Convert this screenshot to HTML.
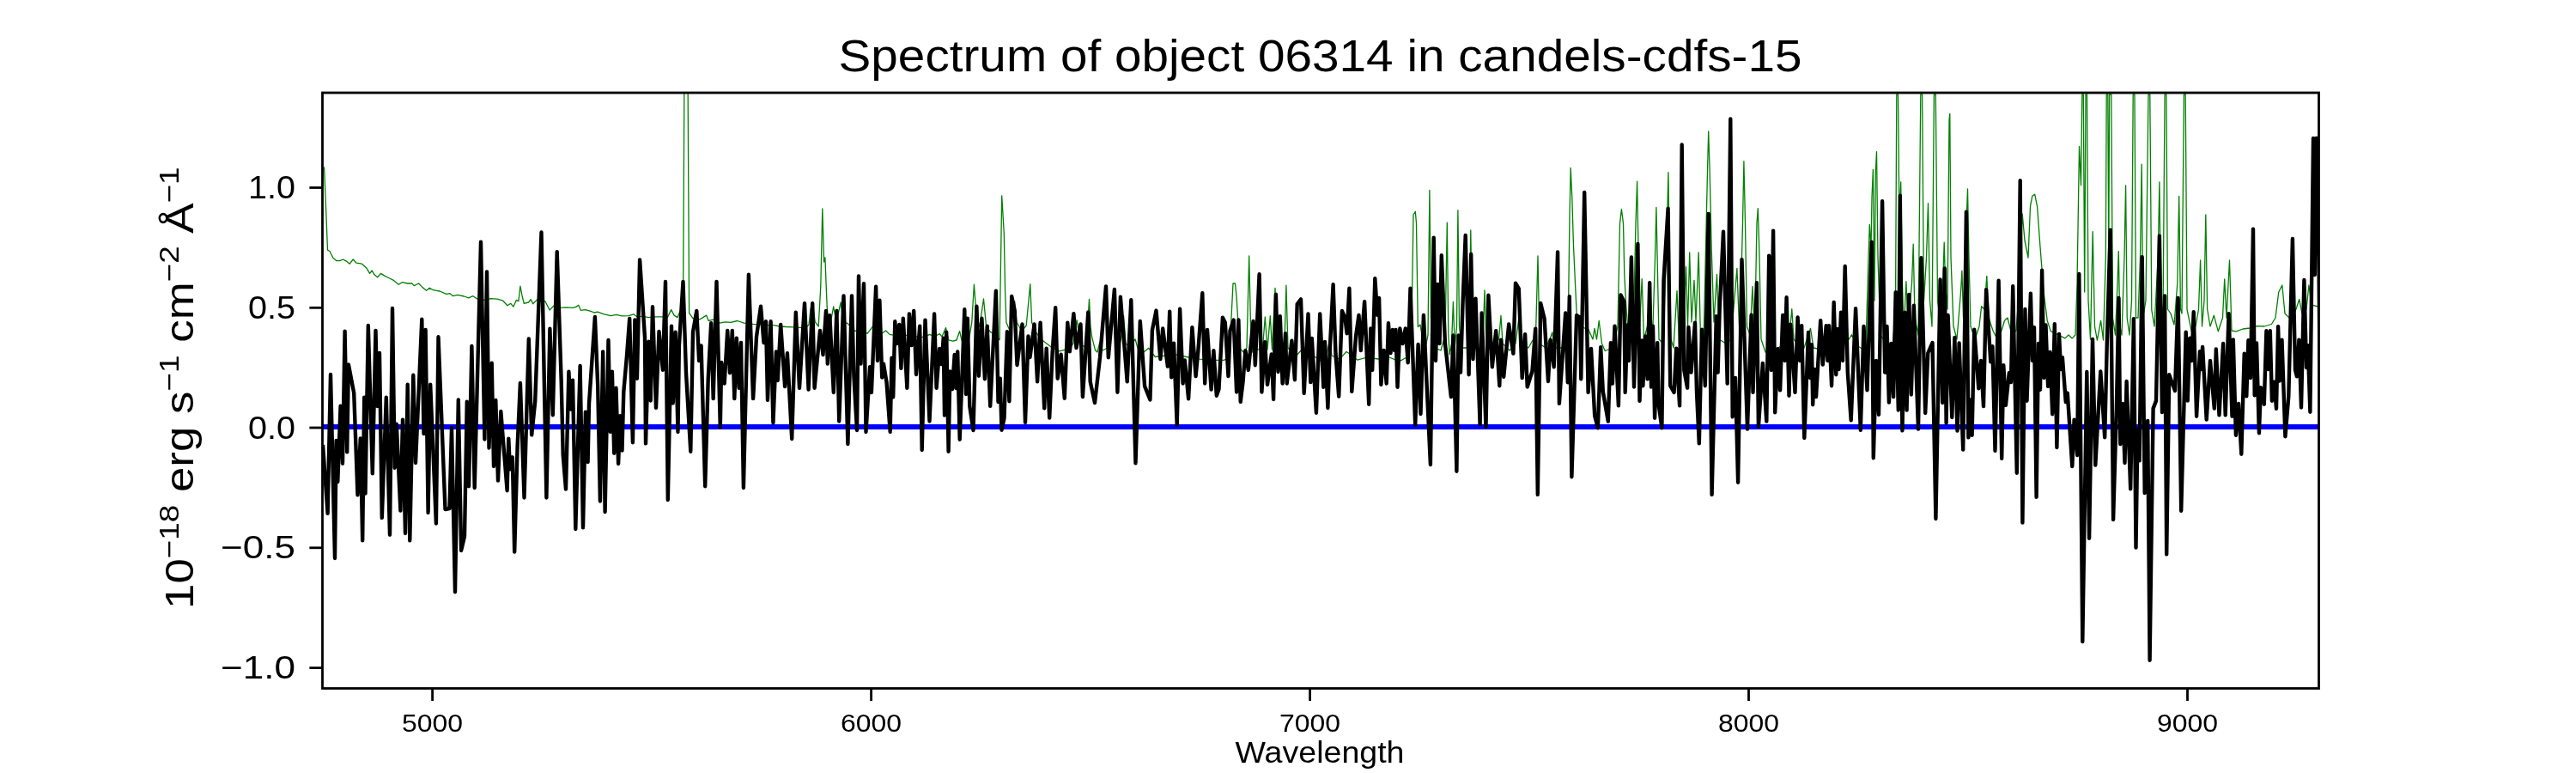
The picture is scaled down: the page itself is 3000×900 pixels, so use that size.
<!DOCTYPE html>
<html><head><meta charset="utf-8"><style>
html,body{margin:0;padding:0;background:#fff;width:3000px;height:900px;overflow:hidden}
svg{display:block;will-change:transform}
text{font-family:"Liberation Sans",sans-serif;fill:#000}
</style></head><body>
<svg width="3000" height="900" viewBox="0 0 3000 900">
<rect width="3000" height="900" fill="#fff"/>
<text x="1537.5" y="83" font-size="51" text-anchor="middle" textLength="1122" lengthAdjust="spacingAndGlyphs">Spectrum of object 06314 in candels-cdfs-15</text>
<g id="plot"><clipPath id="cp"><rect x="375" y="108" width="2325" height="693"/></clipPath><g clip-path="url(#cp)"><path d="M376.6,194.0 377.6,195.5 379.7,244.7 381.5,291.2 384.0,292.5 387.9,300.2 391.8,303.6 395.7,303.6 399.6,302.0 403.4,304.1 407.3,307.2 411.2,302.0 415.1,306.2 421.5,307.2 426.7,311.9 430.6,318.4 433.2,315.0 435.8,319.6 439.6,322.7 443.5,318.4 447.4,320.9 452.6,323.5 457.8,326.1 464.2,331.3 468.1,328.7 474.6,330.0 479.7,330.0 482.3,332.6 487.5,330.0 491.4,333.9 496.5,338.3 500.4,335.2 504.3,337.7 512.1,339.0 519.8,342.4 523.7,341.6 527.6,344.7 532.7,343.4 540.5,345.0 545.7,346.8 550.8,344.7 556.0,348.1 563.8,349.4 571.5,347.6 579.3,348.1 585.8,350.2 590.9,355.8 594.8,353.3 597.9,357.1 601.3,349.4 603.9,350.7 605.9,333.1 608.3,345.5 610.3,353.3 615.5,352.0 618.1,348.6 620.7,353.8 625.8,348.6 631.0,352.0 634.9,350.7 640.1,361.0 645.2,355.8 651.7,358.4 659.5,357.9 667.2,358.4 671.1,357.1 673.7,355.3 676.5,361.4 681.6,360.6 688.1,362.4 692.0,364.0 695.9,363.2 703.6,365.8 711.4,367.6 717.8,366.3 724.3,367.8 732.1,367.6 737.8,365.8 741.1,368.3 748.9,368.3 755.3,369.6 763.1,368.9 772.1,368.9 777.3,369.6 781.7,360.6 785.1,367.1 789.0,369.6 792.1,361.9 795.5,367.1 797.1,60.0 800.9,60.0 802.6,364.5 804.5,367.1 807.1,370.9 811.0,369.0 814.3,372.2 818.7,369.6 822.6,367.1 825.2,373.5 830.3,372.2 838.1,376.1 844.6,374.8 851.0,375.3 858.8,373.5 866.5,376.1 876.9,377.4 884.6,377.9 892.4,378.7 901.4,378.7 907.9,380.0 915.7,380.5 923.4,380.8 931.2,381.3 938.9,381.3 942.0,378.0 944.0,360.0 946.2,351.5 949.3,374.8 953.2,380.0 955.8,333.4 957.8,242.9 959.6,305.0 960.9,299.8 962.2,333.4 963.5,364.5 967.4,374.8 970.7,357.0 974.0,375.0 979.2,351.9 981.8,375.2 987.0,376.5 996.0,385.5 1003.0,385.0 1010.3,388.1 1016.2,380.3 1020.6,388.1 1027.1,388.1 1031.7,385.0 1036.1,389.4 1042.6,390.7 1050.0,390.0 1058.1,390.7 1068.4,392.0 1076.2,392.7 1082.7,389.4 1088.0,392.0 1094.3,388.6 1097.0,392.0 1101.5,381.6 1104.6,395.8 1109.8,397.1 1114.0,396.0 1117.6,385.5 1120.2,397.1 1127.9,398.4 1131.8,375.2 1134.4,331.2 1137.0,364.8 1140.8,380.3 1145.5,348.0 1148.6,380.3 1153.8,386.8 1159.0,390.0 1164.1,395.8 1166.7,227.8 1169.3,271.7 1170.6,339.0 1171.9,375.2 1176.0,385.0 1181.7,350.6 1184.0,375.0 1190.0,385.5 1195.2,379.0 1199.8,330.7 1201.6,375.2 1205.0,385.0 1213.3,395.8 1223.6,403.6 1234.0,408.8 1244.3,406.2 1250.0,400.0 1254.1,372.6 1258.5,401.0 1265.0,404.9 1268.5,348.3 1270.0,380.0 1271.6,392.2 1275.5,407.7 1278.0,410.0 1280.7,398.7 1284.0,408.0 1290.0,405.0 1294.0,380.0 1296.2,361.2 1298.5,395.0 1303.0,405.0 1306.5,390.0 1308.6,367.7 1311.0,400.0 1316.0,405.0 1322.0,394.8 1327.2,412.9 1332.0,410.0 1337.6,405.2 1345.3,415.5 1358.0,414.0 1371.2,412.9 1381.5,415.5 1397.1,418.1 1415.2,419.4 1425.5,419.4 1431.0,416.0 1434.0,370.0 1436.0,330.0 1438.5,330.0 1440.0,345.0 1441.5,369.0 1443.6,405.2 1448.0,410.0 1452.0,405.0 1454.7,297.8 1456.5,380.0 1458.6,410.0 1465.0,407.0 1470.5,405.0 1473.3,369.0 1476.0,407.0 1479.3,367.7 1481.5,407.0 1485.0,335.3 1487.5,412.0 1493.0,418.0 1495.8,405.0 1497.9,332.2 1500.0,405.0 1508.3,415.5 1518.0,405.0 1531.5,415.5 1539.3,420.7 1545.0,412.0 1548.3,397.4 1551.0,414.0 1560.0,418.1 1568.0,409.5 1575.0,414.0 1580.9,419.2 1592.0,416.0 1605.0,418.0 1618.0,416.0 1629.4,420.9 1640.0,415.0 1644.0,380.0 1646.0,250.0 1648.3,246.3 1649.5,260.0 1651.3,380.5 1654.0,378.0 1659.0,410.0 1663.0,390.0 1664.9,221.4 1666.5,370.0 1671.0,405.0 1678.0,408.0 1683.0,390.0 1685.3,259.2 1686.8,390.0 1688.2,412.8 1690.5,400.0 1692.4,351.4 1694.2,405.0 1696.5,380.0 1697.9,244.7 1699.5,380.0 1702.0,405.0 1709.0,405.0 1711.2,370.0 1712.8,268.0 1714.5,380.0 1717.0,405.0 1724.0,408.0 1727.5,380.0 1729.0,337.8 1731.0,400.0 1738.0,405.0 1745.5,395.0 1748.0,367.5 1750.0,400.0 1758.0,408.0 1765.0,400.0 1768.4,374.0 1771.0,400.0 1780.0,405.0 1788.5,390.0 1791.0,298.0 1793.0,400.0 1800.0,405.0 1805.0,395.0 1807.8,386.9 1810.0,405.0 1818.0,405.0 1826.0,400.0 1828.0,250.0 1829.2,195.5 1830.8,230.0 1832.4,283.5 1834.5,330.0 1836.3,367.5 1840.0,380.0 1849.9,383.7 1855.0,395.0 1857.0,382.3 1859.5,395.0 1862.2,373.5 1865.5,400.0 1869.2,408.5 1878.0,405.0 1884.0,380.0 1886.5,260.0 1888.4,243.6 1890.5,260.0 1891.8,320.0 1893.7,356.0 1897.0,395.0 1902.0,395.0 1905.0,260.0 1906.6,211.1 1908.2,300.0 1909.5,380.0 1912.2,324.6 1914.5,395.0 1918.5,380.0 1921.6,335.1 1924.5,395.0 1927.5,300.0 1928.9,241.5 1930.5,320.0 1932.0,395.0 1937.0,400.0 1941.5,260.0 1942.9,200.6 1944.3,300.0 1946.0,395.0 1949.0,405.0 1953.0,338.6 1955.5,400.0 1960.0,395.0 1963.5,310.7 1965.5,380.0 1967.7,293.9 1970.0,375.0 1973.0,326.4 1975.0,375.0 1978.2,293.9 1980.5,395.0 1984.0,400.0 1988.5,200.0 1989.7,152.8 1991.2,200.0 1993.2,289.7 1996.0,375.0 1999.5,319.4 2002.0,395.0 2010.0,400.0 2016.0,395.0 2022.9,312.4 2026.0,395.0 2029.5,260.0 2030.9,187.7 2032.5,260.0 2034.5,380.0 2038.0,390.0 2041.0,333.4 2043.5,395.0 2046.0,260.0 2047.3,242.6 2048.8,290.0 2051.0,395.0 2056.1,410.2 2066.0,410.0 2077.0,400.0 2085.0,380.0 2086.8,359.6 2089.0,395.0 2100.0,408.0 2108.5,382.3 2112.0,405.0 2125.0,408.0 2140.0,405.0 2150.0,400.0 2156.6,389.7 2162.0,402.0 2169.0,406.3 2173.0,400.0 2176.0,300.0 2177.3,261.4 2179.0,290.0 2180.0,230.0 2181.4,197.3 2183.0,350.0 2184.3,200.0 2185.5,176.6 2187.0,300.0 2190.0,390.0 2198.0,402.0 2204.0,405.0 2207.5,360.0 2208.8,110.0 2210.5,110.0 2212.0,260.0 2213.7,211.8 2215.5,330.0 2217.0,390.0 2219.9,327.6 2222.0,380.0 2226.5,330.0 2228.2,284.2 2230.0,370.0 2234.0,390.0 2236.8,110.0 2238.6,110.0 2240.5,350.0 2243.5,300.0 2245.5,236.6 2247.5,350.0 2250.0,380.0 2252.4,110.0 2254.3,110.0 2256.5,350.0 2260.0,380.0 2263.0,320.0 2264.2,282.1 2265.5,330.0 2268.0,360.0 2270.0,140.0 2270.8,132.3 2272.0,300.0 2275.0,380.0 2279.0,395.0 2283.5,340.0 2284.9,315.2 2286.5,370.0 2290.0,260.0 2291.5,220.0 2293.0,300.0 2295.0,380.0 2300.0,395.0 2305.0,380.0 2307.6,356.6 2311.0,360.0 2313.8,321.4 2316.0,370.0 2321.0,385.0 2326.0,395.0 2331.0,385.0 2334.5,373.2 2338.0,370.0 2343.0,390.0 2348.0,385.0 2352.0,330.0 2355.2,249.0 2358.0,280.0 2362.0,300.0 2364.5,240.0 2366.8,228.3 2369.7,226.2 2372.6,240.7 2375.9,286.3 2380.1,340.0 2384.2,373.2 2388.3,385.6 2396.6,389.7 2404.9,393.9 2409.0,390.0 2413.2,393.9 2417.0,390.0 2419.0,330.0 2421.5,170.4 2423.5,215.9 2424.8,110.0 2426.3,110.0 2427.7,340.0 2429.0,110.0 2430.5,110.0 2432.0,350.0 2434.5,395.0 2437.2,269.7 2439.5,380.0 2442.4,396.2 2446.6,373.4 2449.5,396.0 2452.3,300.0 2453.2,110.0 2454.8,110.0 2455.8,300.0 2456.6,110.0 2458.8,110.0 2460.5,370.0 2463.5,390.0 2466.0,330.0 2467.3,292.6 2468.8,380.0 2471.0,390.0 2474.0,300.0 2475.6,216.0 2477.2,370.0 2480.0,390.0 2482.5,350.0 2484.2,110.0 2486.0,110.0 2487.5,370.0 2490.0,370.0 2492.5,300.0 2494.2,191.1 2495.8,370.0 2499.0,350.0 2502.0,110.0 2503.8,110.0 2505.8,361.0 2509.0,380.0 2513.2,300.0 2514.9,211.8 2516.5,350.0 2519.0,370.0 2521.1,110.0 2522.9,110.0 2524.5,360.0 2528.0,365.0 2532.0,378.0 2535.8,330.0 2537.7,228.4 2539.5,360.0 2541.0,365.0 2543.4,110.0 2545.2,110.0 2547.0,360.0 2552.2,385.8 2557.0,380.0 2560.5,360.0 2562.6,303.0 2564.5,380.0 2567.0,350.0 2568.8,250.0 2570.6,360.0 2574.0,380.0 2578.3,367.2 2583.3,385.8 2588.5,370.0 2590.7,325.0 2593.0,370.0 2596.5,303.0 2599.0,385.0 2604.0,385.8 2612.0,383.0 2620.0,382.0 2628.8,379.6 2637.0,380.0 2645.4,377.5 2650.0,370.0 2653.7,340.3 2657.8,332.0 2661.0,365.0 2668.0,372.0 2674.0,360.0 2677.7,348.5 2681.0,365.0 2686.0,360.0 2688.9,332.0 2692.0,355.0 2699.3,356.8 2701.0,356.0" fill="none" stroke="#008000" stroke-width="1.3" stroke-linejoin="round"/><line x1="375" y1="497" x2="2700" y2="497" stroke="#0000ff" stroke-width="6"/><path d="M376.0,518.0 381.6,597.9 385.0,436.0 390.0,650.0 391.6,513.0 393.3,561.0 396.6,472.7 399.0,539.7 401.6,385.6 404.2,526.4 405.9,424.5 412.2,457.7 416.5,576.3 419.8,510.4 422.2,629.4 424.2,462.7 425.5,574.6 428.8,379.0 433.8,551.4 437.5,385.0 439.5,473.0 442.0,411.0 444.8,602.9 449.8,462.7 454.0,622.8 457.0,359.0 459.7,544.7 461.8,493.8 466.4,594.6 469.0,488.6 472.0,621.0 474.7,447.8 477.3,629.4 481.3,436.8 484.0,539.0 491.3,371.7 493.5,505.0 495.6,384.0 498.6,596.9 501.2,447.8 507.9,609.5 510.5,392.3 518.5,593.0 523.5,592.0 526.0,498.0 530.0,689.2 533.8,465.4 537.1,641.0 541.0,624.5 543.8,467.7 546.0,566.3 549.4,403.0 552.7,568.0 560.0,281.7 564.4,511.5 567.0,316.5 569.5,521.5 572.7,422.7 575.0,543.0 577.3,465.9 580.0,559.6 583.3,479.0 590.6,571.2 592.3,510.6 593.9,546.3 596.8,532.3 599.2,642.6 602.6,519.7 605.9,446.0 610.5,579.5 615.8,394.5 619.2,506.4 623.2,467.5 630.5,270.5 636.4,579.5 640.4,382.8 643.8,483.2 648.7,293.1 653.7,444.3 655.7,529.7 659.0,569.5 662.4,432.7 664.7,476.5 667.0,442.6 670.3,616.0 675.6,426.0 679.0,614.4 681.9,479.6 684.6,538.0 686.0,470.0 692.9,368.9 696.2,449.3 698.9,583.5 702.2,409.4 704.6,596.0 708.5,396.0 710.8,502.9 712.9,432.7 715.2,527.7 717.5,451.6 720.1,540.0 722.3,484.2 724.5,524.6 726.3,456.3 730.0,414.0 733.2,371.0 736.9,515.3 739.4,372.4 741.9,440.7 745.1,302.4 751.0,392.8 752.0,516.4 755.4,397.8 757.7,466.5 760.0,357.2 764.0,474.9 767.5,386.0 771.9,430.7 775.0,327.9 777.8,582.0 782.0,379.6 783.8,469.4 786.6,386.7 789.5,502.9 790.9,402.5 795.5,327.9 799.0,434.2 804.3,525.7 807.0,386.7 811.3,362.0 814.1,420.1 816.6,402.5 821.2,566.2 824.7,441.2 828.2,376.1 830.7,464.1 834.5,327.9 838.8,497.6 840.2,421.9 843.7,446.5 847.2,384.9 850.0,434.2 852.8,384.9 855.3,464.1 857.8,393.7 860.6,451.8 863.0,399.0 865.9,568.0 871.9,319.8 877.1,464.1 881.0,392.0 886.0,356.7 889.5,399.0 892.0,374.3 894.0,465.9 897.6,374.3 900.4,492.3 903.9,409.5 905.7,443.0 909.2,377.9 914.1,450.0 916.9,411.3 922.2,511.0 926.8,363.8 931.0,451.8 937.0,353.2 941.6,453.6 946.2,353.2 948.6,451.8 955.0,384.9 958.5,413.0 962.0,362.0 963.8,423.6 966.3,367.3 970.8,457.0 974.4,362.0 977.2,490.5 982.5,344.4 987.4,517.0 992.0,344.4 994.4,437.7 998.0,501.0 1000.0,321.5 1002.5,423.6 1006.0,330.3 1008.5,502.9 1013.1,427.2 1014.9,457.0 1020.1,333.8 1022.0,420.0 1024.4,349.7 1027.2,439.5 1029.0,423.6 1032.5,444.8 1036.7,502.9 1038.5,416.6 1040.2,462.4 1042.3,374.3 1044.5,400.0 1047.3,377.9 1049.4,428.9 1051.8,370.8 1056.4,451.8 1058.9,365.5 1061.5,402.0 1064.2,362.0 1067.0,436.0 1071.2,379.6 1073.7,524.0 1077.5,372.6 1082.5,490.5 1088.1,365.5 1090.6,451.8 1094.1,406.0 1096.5,424.0 1098.7,393.7 1100.0,483.5 1102.2,386.7 1104.6,525.7 1106.4,432.4 1109.0,453.0 1111.7,413.0 1113.5,452.0 1115.2,409.5 1117.7,511.7 1123.3,360.3 1125.0,459.0 1126.8,370.8 1129.3,472.9 1133.5,501.0 1137.4,356.7 1139.9,437.7 1143.4,370.8 1146.9,441.2 1149.7,379.6 1153.2,472.9 1159.9,338.7 1162.5,468.0 1164.8,440.8 1166.5,500.7 1169.5,487.0 1172.9,386.3 1175.4,467.3 1178.2,345.0 1181.7,361.6 1184.5,425.0 1190.5,377.5 1194.0,491.9 1197.5,391.5 1199.5,416.0 1204.6,377.5 1208.1,444.4 1211.6,375.7 1216.2,475.4 1218.7,405.6 1222.2,486.6 1225.7,409.2 1229.2,358.1 1231.7,440.8 1235.6,412.7 1239.8,463.7 1243.3,375.7 1245.8,409.2 1250.4,365.1 1253.5,405.0 1258.5,377.5 1260.9,462.0 1267.3,363.4 1269.7,444.4 1275.0,469.0 1281.0,416.2 1288.0,333.5 1290.8,416.2 1297.9,337.0 1301.4,456.7 1304.9,345.8 1312.7,444.4 1317.3,349.3 1322.5,539.4 1327.8,373.9 1333.1,449.6 1339.4,465.5 1341.9,384.5 1346.5,361.6 1351.4,418.0 1354.2,382.5 1359.9,426.6 1362.2,362.6 1364.2,439.4 1367.0,399.6 1370.7,494.9 1374.1,359.7 1377.6,446.5 1379.8,419.5 1384.1,464.4 1388.4,381.1 1392.6,438.0 1395.5,406.7 1400.3,341.3 1403.2,446.5 1406.0,383.9 1410.6,453.6 1413.4,408.1 1416.8,460.7 1419.5,453.0 1423.9,369.7 1426.8,375.4 1430.5,438.0 1432.5,385.3 1436.7,372.5 1440.1,456.5 1442.4,372.5 1444.7,467.9 1447.5,445.0 1450.4,408.1 1453.8,430.9 1459.5,374.0 1461.8,425.2 1466.6,319.3 1469.4,456.5 1473.1,398.2 1476.0,447.9 1480.8,412.4 1483.1,465.0 1485.9,342.7 1488.5,433.0 1490.8,368.3 1493.6,446.5 1497.0,388.2 1498.7,446.5 1504.4,396.7 1507.9,442.2 1510.7,354.0 1515.0,348.4 1518.7,457.9 1523.5,365.4 1526.3,445.1 1527.8,393.9 1532.9,480.7 1537.2,365.4 1541.3,450.8 1543.0,398.0 1546.4,475.0 1548.7,408.0 1552.6,331.3 1555.5,412.0 1559.2,461.6 1562.9,362.0 1566.3,369.7 1568.6,388.2 1571.4,335.6 1574.3,455.9 1579.1,391.0 1582.5,366.9 1584.8,408.1 1589.1,351.2 1594.2,470.7 1596.2,382.5 1598.2,430.9 1601.3,324.2 1604.1,366.9 1606.1,347.0 1608.4,447.9 1611.5,408.0 1614.7,446.5 1616.9,376.2 1619.5,411.0 1621.8,383.9 1624.0,408.0 1625.5,384.0 1627.5,450.8 1630.3,382.5 1633.5,400.0 1636.8,382.5 1639.7,422.3 1642.5,335.6 1648.2,494.9 1651.6,401.0 1654.5,482.0 1657.9,366.9 1665.9,541.0 1669.7,276.6 1672.0,420.0 1674.4,330.9 1676.5,400.0 1678.8,297.3 1683.0,400.8 1685.0,418.0 1689.9,462.1 1692.5,390.4 1696.4,548.8 1698.5,390.4 1701.0,433.6 1703.5,354.2 1706.7,274.0 1710.6,436.2 1713.2,296.0 1715.5,418.1 1718.5,347.7 1723.6,494.4 1725.6,364.5 1730.5,497.0 1733.4,343.8 1737.8,427.2 1742.2,385.2 1746.3,449.2 1748.1,395.6 1751.2,438.8 1757.2,377.5 1762.4,411.6 1765.0,329.6 1768.8,336.1 1772.7,440.1 1776.1,389.1 1778.7,450.5 1784.4,432.3 1788.2,382.7 1790.8,575.9 1794.2,352.9 1798.6,371.0 1803.0,444.0 1805.6,395.6 1809.7,427.2 1814.1,293.4 1815.9,469.9 1823.2,364.5 1825.8,445.3 1827.8,345.1 1830.4,555.2 1836.1,367.1 1840.0,369.7 1841.3,441.4 1845.2,224.0 1849.6,456.9 1853.0,406.0 1857.2,484.1 1860.9,498.3 1864.2,404.3 1866.8,455.6 1872.8,490.6 1875.9,399.1 1877.9,446.6 1880.5,379.7 1884.9,472.4 1887.5,343.5 1891.4,351.3 1892.7,456.9 1895.3,378.4 1897.0,420.0 1899.9,299.5 1903.0,450.5 1907.4,284.0 1909.5,466.8 1912.1,396.5 1913.4,449.2 1916.0,391.4 1918.6,441.4 1921.2,329.3 1923.0,450.5 1925.0,379.7 1927.1,486.7 1930.2,399.1 1931.5,469.9 1935.4,498.3 1937.5,326.7 1942.6,242.6 1945.2,449.2 1949.6,456.9 1952.2,405.6 1956.1,472.4 1958.7,168.4 1961.3,431.0 1965.1,451.7 1966.4,381.0 1969.5,433.6 1974.0,375.8 1976.0,456.9 1978.8,516.4 1982.0,383.6 1985.8,449.2 1989.7,249.0 1993.6,575.9 1998.8,368.1 2000.6,433.6 2002.7,359.0 2007.0,269.8 2011.7,446.6 2015.3,138.5 2017.7,485.4 2021.0,440.0 2024.1,561.7 2028.5,302.1 2035.0,499.6 2039.6,366.8 2041.5,456.9 2045.9,329.3 2047.9,497.0 2052.9,423.0 2057.3,490.6 2060.2,297.6 2062.8,431.0 2065.1,268.6 2067.2,480.2 2070.5,406.3 2073.1,454.3 2076.2,367.0 2078.5,420.0 2080.6,346.3 2083.5,460.8 2085.3,377.8 2090.5,456.9 2093.6,369.5 2096.0,420.0 2098.2,379.1 2101.3,510.0 2106.0,386.9 2108.0,440.0 2109.9,401.1 2111.2,471.2 2113.0,430.0 2115.0,462.0 2120.2,373.2 2122.8,424.6 2126.7,379.1 2128.5,420.0 2130.0,379.1 2133.1,449.2 2135.7,352.0 2138.3,436.2 2139.6,383.0 2141.5,430.0 2144.0,363.6 2146.0,420.0 2148.7,310.0 2151.8,433.6 2155.7,489.3 2161.1,359.2 2166.8,500.9 2170.5,380.0 2174.5,454.3 2179.7,281.6 2181.8,533.2 2185.0,420.0 2188.0,482.8 2192.1,234.2 2195.2,433.6 2197.5,380.0 2199.9,468.6 2202.5,400.0 2205.1,462.1 2207.7,340.3 2210.8,477.6 2212.8,227.8 2215.4,501.4 2218.5,363.6 2220.6,477.6 2223.2,342.9 2225.8,459.5 2228.9,355.8 2234.0,499.6 2237.4,300.2 2242.2,481.0 2245.3,411.0 2250.5,399.0 2254.4,604.0 2259.6,325.5 2262.2,469.0 2264.8,312.5 2266.6,492.5 2268.6,367.0 2273.3,486.0 2276.4,393.0 2279.5,501.6 2281.6,399.4 2286.2,523.6 2289.9,246.6 2292.4,509.4 2295.0,465.4 2296.6,506.8 2299.2,383.7 2304.3,452.4 2307.0,420.0 2310.0,473.1 2313.1,337.1 2318.3,421.4 2320.4,403.3 2323.5,524.9 2327.6,326.8 2331.2,533.9 2333.3,425.3 2335.9,471.8 2339.8,434.3 2342.0,445.0 2344.2,333.2 2348.8,550.8 2352.7,210.3 2355.4,608.6 2358.4,359.9 2360.5,466.7 2364.9,341.8 2367.0,420.0 2369.0,381.1 2371.6,578.8 2374.0,400.0 2376.0,453.7 2378.1,314.6 2380.5,440.0 2382.5,378.5 2385.1,449.9 2387.5,410.0 2390.2,482.2 2392.8,377.2 2395.4,521.0 2398.0,388.9 2400.0,430.0 2401.9,416.2 2405.8,468.0 2407.8,457.6 2413.3,543.0 2415.6,488.7 2419.2,530.1 2421.3,319.0 2425.3,747.1 2430.3,433.0 2433.1,626.7 2437.0,394.9 2440.3,541.6 2446.3,432.4 2451.2,509.3 2453.8,398.8 2457.7,267.6 2461.1,605.0 2464.9,474.3 2467.5,347.0 2469.3,517.0 2472.0,470.0 2474.5,539.0 2476.6,444.0 2481.2,569.3 2484.9,371.1 2487.5,637.6 2489.5,500.0 2491.6,536.4 2494.7,299.2 2497.7,574.0 2501.2,489.9 2503.6,768.7 2507.6,475.6 2511.0,466.6 2514.9,274.6 2518.0,480.0 2521.1,344.4 2523.2,645.4 2526.2,436.3 2533.0,455.0 2536.6,347.0 2540.2,594.8 2545.7,386.6 2547.7,466.6 2550.3,393.6 2552.5,420.0 2554.7,363.3 2558.1,484.7 2562.0,409.1 2563.5,430.0 2565.1,404.0 2569.7,488.6 2574.0,420.0 2578.8,475.6 2580.8,406.5 2584.5,483.4 2589.1,400.0 2591.7,483.4 2595.6,365.1 2599.5,484.7 2600.8,395.4 2603.9,506.7 2607.0,470.0 2610.3,528.7 2613.7,411.7 2616.3,461.4 2618.4,396.2 2621.0,440.0 2624.0,266.8 2625.7,460.3 2628.0,399.5 2630.9,504.3 2632.9,451.3 2636.8,470.7 2639.4,385.3 2641.5,430.0 2643.8,385.3 2645.9,466.8 2648.5,444.8 2651.0,475.8 2653.1,380.1 2654.9,443.5 2657.5,395.6 2661.4,508.2 2665.3,461.6 2669.9,278.0 2673.0,430.6 2674.9,438.3 2677.4,395.6 2680.0,474.5 2683.4,326.0 2686.0,428.0 2687.8,402.1 2690.4,479.7 2694.0,161.0 2695.8,320.0 2697.3,161.0 2699.3,161.0 2701.5,420.0" fill="none" stroke="#000" stroke-width="4.4" stroke-linejoin="round" stroke-linecap="butt"/></g></g>
<rect x="375.5" y="108" width="2325" height="693.5" fill="none" stroke="#000" stroke-width="2.8"/>
<g stroke="#000" stroke-width="2.8">
<line x1="503.6" y1="801" x2="503.6" y2="816"/>
<line x1="1014.6" y1="801" x2="1014.6" y2="816"/>
<line x1="1525.6" y1="801" x2="1525.6" y2="816"/>
<line x1="2036.5" y1="801" x2="2036.5" y2="816"/>
<line x1="2547.5" y1="801" x2="2547.5" y2="816"/>
<line x1="360.4" y1="218.5" x2="375" y2="218.5"/>
<line x1="360.4" y1="358.3" x2="375" y2="358.3"/>
<line x1="360.4" y1="498" x2="375" y2="498"/>
<line x1="360.4" y1="637.8" x2="375" y2="637.8"/>
<line x1="360.4" y1="777.6" x2="375" y2="777.6"/>
</g>
<g font-size="29" text-anchor="middle">
<text x="503.6" y="851.5" textLength="71" lengthAdjust="spacingAndGlyphs">5000</text>
<text x="1014.6" y="851.5" textLength="71" lengthAdjust="spacingAndGlyphs">6000</text>
<text x="1525.6" y="851.5" textLength="71" lengthAdjust="spacingAndGlyphs">7000</text>
<text x="2036.5" y="851.5" textLength="71" lengthAdjust="spacingAndGlyphs">8000</text>
<text x="2547.5" y="851.5" textLength="71" lengthAdjust="spacingAndGlyphs">9000</text>
</g>
<g font-size="37.5" text-anchor="end">
<text x="344" y="231" textLength="55" lengthAdjust="spacingAndGlyphs">1.0</text>
<text x="344" y="371" textLength="55" lengthAdjust="spacingAndGlyphs">0.5</text>
<text x="344" y="510.5" textLength="55" lengthAdjust="spacingAndGlyphs">0.0</text>
<text x="344" y="650" textLength="87" lengthAdjust="spacingAndGlyphs">−0.5</text>
<text x="344" y="790" textLength="87" lengthAdjust="spacingAndGlyphs">−1.0</text>
</g>
<text x="1537" y="888" font-size="35" text-anchor="middle" textLength="197" lengthAdjust="spacingAndGlyphs">Wavelength</text>
<g transform="translate(225,709) rotate(-90) scale(1.15,1)" font-size="46">
<text x="0" y="0">10<tspan font-size="32" dy="-17">−18</tspan><tspan dy="17"> erg s</tspan><tspan font-size="32" dy="-17">−1</tspan><tspan dy="17"> cm</tspan><tspan font-size="32" dy="-17">−2</tspan><tspan dy="17"> Å</tspan><tspan font-size="32" dy="-17">−1</tspan></text>
</g>
</svg>
</body></html>
